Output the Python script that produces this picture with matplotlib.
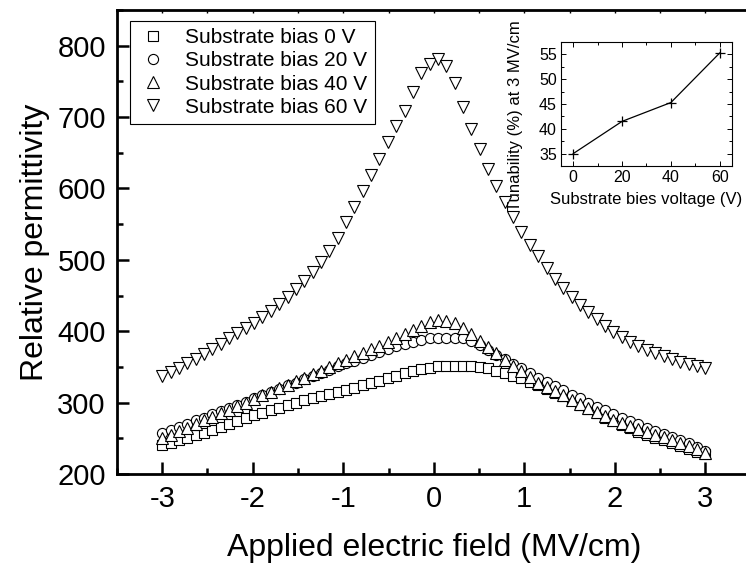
import numpy as np
import matplotlib
matplotlib.use('Agg')
import matplotlib.pyplot as plt
from matplotlib.ticker import MultipleLocator, NullFormatter

plt.rcParams['font.family'] = ['Liberation Sans', 'DejaVu Sans']
plt.rcParams['axes.unicode_minus'] = False

# campo electrico aplicado (MV/cm)
campo = np.linspace(-3, 3, 66)

eps_0v = [240, 244, 248, 251, 255, 258, 262, 266, 270, 274, 278, 282, 286, 290, 293, 297,
          300, 303, 306, 309, 312, 315, 318, 321, 325, 328, 331, 335, 338, 341, 344, 347,
          349, 351, 352, 352, 352, 351, 350, 348, 345, 342, 338, 334, 329, 324, 319, 314,
          309, 303, 297, 291, 285, 279, 274, 269, 264, 259, 255, 251, 247, 243, 239, 235,
          231, 228]
eps_20v = [258, 262, 266, 270, 275, 279, 284, 288, 293, 297, 301, 306, 310, 315, 319, 324,
           328, 333, 337, 342, 346, 351, 355, 359, 363, 367, 371, 375, 379, 382, 385, 388,
           390, 391, 391, 391, 390, 387, 381, 374, 367, 361, 354, 348, 341, 335, 329, 323,
           317, 311, 306, 300, 294, 289, 284, 279, 274, 270, 265, 260, 256, 252, 248, 243,
           238, 232]
eps_40v = [250, 255, 260, 265, 270, 275, 280, 285, 290, 295, 300, 305, 310, 315, 320, 325,
           330, 335, 340, 345, 350, 355, 360, 365, 370, 375, 380, 385, 390, 396, 402, 408,
           413, 416, 415, 411, 404, 396, 387, 378, 369, 360, 352, 344, 336, 328, 322, 316,
           310, 304, 298, 292, 287, 281, 276, 271, 267, 263, 259, 255, 252, 248, 244, 239,
           235, 230]
eps_60v = [338, 343, 349, 355, 361, 368, 375, 382, 390, 397, 404, 412, 420, 428, 438, 448,
           459, 470, 483, 497, 513, 531, 553, 574, 596, 619, 642, 665, 687, 708, 735, 762,
           775, 781, 772, 748, 714, 684, 655, 628, 603, 581, 560, 539, 521, 505, 489, 473,
           460, 448, 437, 427, 417, 408, 399, 392, 385, 379, 374, 369, 365, 361, 357, 354,
           351, 349]

etiquetas = ['Substrate bias 0 V', 'Substrate bias 20 V', 'Substrate bias 40 V', 'Substrate bias 60 V']

# recuadro: tunabilidad
voltaje = [0, 20, 40, 60]
tunabilidad = [35.0, 41.5, 45.3, 55.3]

fig = plt.figure(figsize=(7.46, 5.67), dpi=100)
ax = fig.add_axes([0.1568, 0.164, 0.8493, 0.8183])

estilos = [('s', 7.0), ('o', 7.3), ('^', 9.0), ('v', 9.0)]
series = [eps_0v, eps_20v, eps_40v, eps_60v]
for datos, (m, ms), lab in zip(series, estilos, etiquetas):
    ax.plot(campo, datos, ls='none', marker=m, ms=ms, mfc='white', mec='black', mew=0.8, label=lab)

ax.set_xlim(-3.5, 3.5)
ax.set_ylim(200, 850)
ax.xaxis.set_major_locator(MultipleLocator(1))
ax.xaxis.set_minor_locator(MultipleLocator(0.5))
ax.yaxis.set_minor_locator(MultipleLocator(50))
ax.set_yticks([200, 300, 400, 500, 600, 700, 800])
ax.tick_params(which='both', direction='in', right=False, top=False, labelsize=21, width=1.8)
ax.tick_params(which='major', length=8.5, pad=8)
ax.tick_params(which='minor', length=4.5)
for s in ax.spines.values():
    s.set_linewidth(2.0)

top = ax.secondary_xaxis('top')
top.xaxis.set_major_locator(MultipleLocator(0.5))
top.xaxis.set_major_formatter(NullFormatter())
top.tick_params(direction='in', length=2.5, width=1.0)

ax.set_xlabel('Applied electric field (MV/cm)', fontsize=23, labelpad=14)
ax.set_ylabel('Relative permittivity', fontsize=23)
ax.yaxis.set_label_coords(-0.105, 0.5)

leg = ax.legend(loc='upper left', bbox_to_anchor=(0.0205, 0.977), borderaxespad=0,
                fontsize=15, frameon=True, fancybox=False, framealpha=1,
                handlelength=1.5, handletextpad=0.8, borderpad=0.36, labelspacing=0.2)
leg.get_frame().set_edgecolor('black')
leg.get_frame().set_linewidth(0.8)

# recuadro
ins = fig.add_axes([0.752, 0.7072, 0.2292, 0.2187])
ins.plot(voltaje, tunabilidad, color='black', lw=0.9, marker='+', ms=7, mew=0.9)
ins.set_xlim(-5, 65)
ins.set_ylim(32.5, 57.5)
ins.xaxis.set_major_locator(MultipleLocator(20))
ins.xaxis.set_minor_locator(MultipleLocator(10))
ins.yaxis.set_major_locator(MultipleLocator(5))
ins.yaxis.set_minor_locator(MultipleLocator(2.5))
ins.tick_params(which='both', direction='in', top=True, right=True, labelsize=11.5, width=0.7, pad=3)
ins.tick_params(which='major', length=3.5)
ins.tick_params(which='minor', length=2)
for s in ins.spines.values():
    s.set_linewidth(0.8)
ins.set_xlabel('Substrate bies voltage (V)', fontsize=12, labelpad=5)
ins.set_ylabel('Tunability (%) at 3 MV/cm', fontsize=12)
ins.yaxis.set_label_coords(-0.22, 0.41)

plt.savefig('out.png', dpi=100)
